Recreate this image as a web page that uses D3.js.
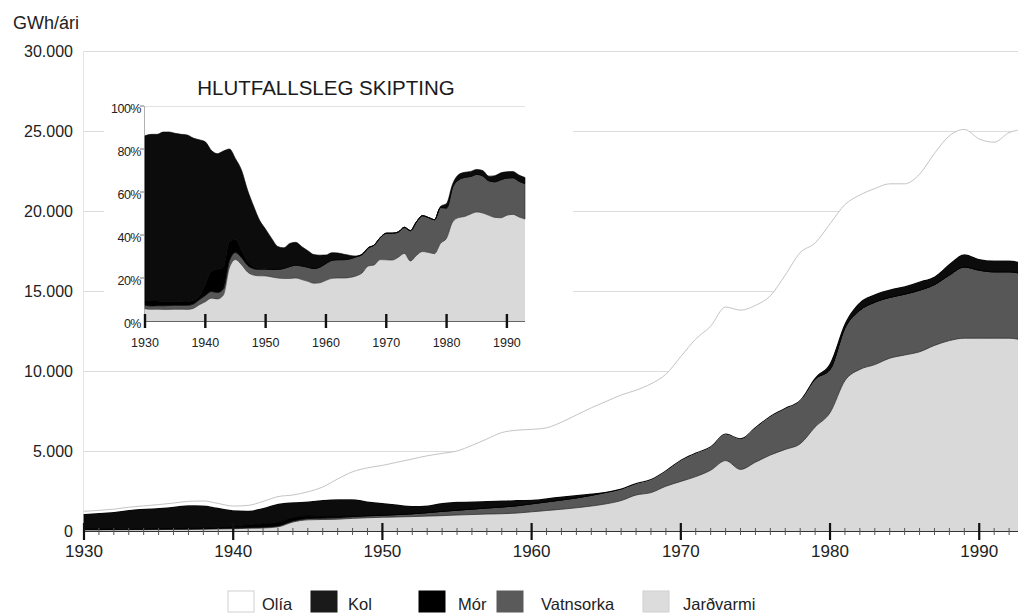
<!DOCTYPE html>
<html><head><meta charset="utf-8">
<script src="https://cdn.jsdelivr.net/npm/d3@7"></script>
<style>
body{margin:0;background:#fff}
svg{display:block;font-family:"Liberation Sans",Arial,Helvetica,sans-serif}
</style>
</head><body>
<svg id="chart" width="1018" height="614"></svg>
<script>
// ---------- DATA (GWh per year) ----------
const years = [1930,1931,1932,1933,1934,1935,1936,1937,1938,1939,
  1940,1941,1942,1943,1944,1945,1946,1947,1948,1949,
  1950,1951,1952,1953,1954,1955,1956,1957,1958,1959,
  1960,1961,1962,1963,1964,1965,1966,1967,1968,1969,
  1970,1971,1972,1973,1974,1975,1976,1977,1978,1979,
  1980,1981,1982,1983,1984,1985,1986,1987,1988,1989,
  1990,1991,1992,1993];
const olia = [170,170,180,180,190,210,230,250,280,270,
  260,330,410,450,450,600,820,1270,1720,2100,
  2350,2650,2940,3100,3100,3170,3500,3870,4250,4370,
  4400,4400,4650,5000,5350,5650,5850,5800,5950,6000,
  6450,7100,7500,7900,8000,7600,7500,8300,9200,8400,
  8700,7400,6700,6600,6600,6400,6700,7700,8000,7800,
  7500,7400,8000,8350];
const kol = [940,1000,1060,1170,1240,1290,1360,1440,1420,1250,
  1035,900,995,1160,970,920,1020,1080,1040,885,
  755,620,480,450,520,530,480,440,400,350,
  250,230,210,180,120,30,20,10,0,0,
  0,0,0,0,0,0,0,0,0,100,
  400,300,500,500,500,500,550,500,700,800,
  700,700,700,700];
const mor = [30,30,30,30,30,30,30,30,30,30,
  80,150,200,220,200,150,100,60,40,20,
  10,0,0,0,0,0,0,0,0,0,
  0,0,0,0,0,0,0,0,0,0,
  0,0,0,0,0,0,0,0,0,0,
  0,0,0,0,0,0,0,0,0,0,
  0,0,0,0];
const vatnsorka = [20,20,22,25,28,30,32,35,38,40,
  45,50,55,60,70,80,90,100,110,115,
  125,150,180,220,270,300,340,380,420,460,
  500,540,580,620,670,720,730,740,850,1000,
  1350,1500,1500,1700,1950,2200,2450,2600,2750,3000,
  2700,3300,3700,3900,3800,3800,3850,3800,4100,4450,
  4250,4150,4150,4150];
const jardvarmi = [70,70,75,80,85,90,95,100,110,130,
  140,170,190,260,560,700,720,740,790,830,
  860,880,900,930,960,1000,1030,1060,1080,1120,
  1200,1280,1360,1450,1560,1700,1900,2250,2400,2800,
  3100,3400,3800,4400,3850,4300,4750,5100,5450,6500,
  7400,9400,10100,10400,10800,11000,11200,11600,11900,12050,
  12050,12050,12050,11900];

const yTickValues = [0,5000,10000,15000,20000,25000,30000];
const yTickLabels = ["0","5.000","10.000","15.000","20.000","25.000","30.000"];
const xTickValues = [1930,1940,1950,1960,1970,1980,1990];
const insetYTicks = [0,0.2,0.4,0.6,0.8,1];
const insetYLabels = ["0%","20%","40%","60%","80%","100%"];
const stackOrder = ["Jarðvarmi","Vatnsorka","Mór","Kol","Olía"]; // bottom -> top
const legendOrder = ["Olía","Kol","Mór","Vatnsorka","Jarðvarmi"];
const colors = {"Olía":"#ffffff","Kol":"#0c0c0c","Mór":"#000000","Vatnsorka":"#575757","Jarðvarmi":"#d9d9d9"};
const legendColors = {"Olía":"#ffffff","Kol":"#1a1a1a","Mór":"#000000","Vatnsorka":"#5a5a5a","Jarðvarmi":"#dcdcdc"};
const strokes = {"Olía":"none","Kol":"#000","Mór":"#000","Vatnsorka":"#2e2e2e","Jarðvarmi":"none"};

// ---------- BUILD ----------
const rows = years.map((yr,i)=>({year:yr,"Olía":olia[i],"Kol":kol[i],"Mór":mor[i],"Vatnsorka":vatnsorka[i],"Jarðvarmi":jardvarmi[i]}));
const svg = d3.select("#chart");
const curve = d3.curveMonotoneX;

// main scales
const x = d3.scaleLinear().domain([1930,1993]).range([84,1024]);
const y = d3.scaleLinear().domain([0,30000]).range([531,51]);

// gridlines
svg.append("g").selectAll("line").data(yTickValues.slice(1)).join("line")
  .attr("x1",83).attr("x2",1018).attr("y1",d=>Math.round(y(d))+0.5).attr("y2",d=>Math.round(y(d))+0.5)
  .attr("stroke","#dcdcdc").attr("stroke-width",1);
svg.append("line").attr("x1",83.5).attr("x2",83.5).attr("y1",y(30000)).attr("y2",y(0))
  .attr("stroke","#e4e4e4");

const stackMain = d3.stack().keys(stackOrder)(rows);
const areaMain = d3.area().curve(curve).x(d=>x(d.data.year)).y0(d=>y(d[0])).y1(d=>y(d[1]));
svg.append("g").selectAll("path").data(stackMain).join("path")
  .attr("d",areaMain).attr("fill",d=>colors[d.key])
  .attr("stroke",d=>strokes[d.key]).attr("stroke-width",0.8);
const topLayer = stackMain[stackMain.length-1];
svg.append("path").datum(topLayer)
  .attr("d",d3.line().curve(curve).x(d=>x(d.data.year)).y(d=>y(d[1])))
  .attr("fill","none").attr("stroke","#c4c4c4").attr("stroke-width",1);

// main x axis
const ax = svg.append("g");
ax.append("line").attr("x1",84).attr("x2",1018).attr("y1",531.5).attr("y2",531.5).attr("stroke","#333");
ax.selectAll("line.minor").data(years).join("line").attr("class","minor")
  .attr("x1",d=>x(d)).attr("x2",d=>x(d)).attr("y1",528).attr("y2",535)
  .attr("stroke","#555").attr("stroke-width",1);
ax.selectAll("line.major").data(xTickValues).join("line").attr("class","major")
  .attr("x1",d=>x(d)).attr("x2",d=>x(d)).attr("y1",523).attr("y2",540)
  .attr("stroke","#111").attr("stroke-width",2.2);
ax.selectAll("text").data(xTickValues).join("text")
  .attr("x",d=>x(d)).attr("y",557).attr("text-anchor","middle")
  .attr("font-size",17).attr("fill","#222").text(d=>d);

// y labels
svg.append("g").selectAll("text").data(yTickValues).join("text")
  .attr("x",73).attr("y",d=>y(d)+6).attr("text-anchor","end")
  .attr("font-size",16).attr("fill","#222").text((d,i)=>yTickLabels[i]);
svg.append("text").attr("x",13).attr("y",29).attr("font-size",18).attr("fill","#222").text("GWh/ári");

// ---------- INSET ----------
const ins = svg.append("g");
ins.append("rect").attr("x",104).attr("y",62).attr("width",469).attr("height",294).attr("fill","#fff");
const xi = d3.scaleLinear().domain([1930,1993]).range([145,525]);
const yi = d3.scaleLinear().domain([0,1]).range([321,106]);
ins.append("line").attr("x1",145).attr("x2",525).attr("y1",106.5).attr("y2",106.5).attr("stroke","#e2e2e2");
ins.append("line").attr("x1",144.5).attr("x2",144.5).attr("y1",106).attr("y2",321).attr("stroke","#b0b0b0");
const stackIns = d3.stack().keys(stackOrder).offset(d3.stackOffsetExpand)(rows);
const areaIns = d3.area().curve(curve).x(d=>xi(d.data.year)).y0(d=>yi(d[0])).y1(d=>yi(d[1]));
ins.append("g").selectAll("path").data(stackIns.filter(s=>s.key!=="Olía")).join("path")
  .attr("d",areaIns).attr("fill",d=>colors[d.key])
  .attr("stroke",d=>strokes[d.key]).attr("stroke-width",0.6);
ins.append("line").attr("x1",145).attr("x2",525).attr("y1",321.5).attr("y2",321.5).attr("stroke","#666");
ins.selectAll("line.tk").data(xTickValues).join("line").attr("class","tk")
  .attr("x1",d=>xi(d)).attr("x2",d=>xi(d)).attr("y1",314).attr("y2",328)
  .attr("stroke","#111").attr("stroke-width",2.4);
ins.selectAll("text.xl").data(xTickValues).join("text").attr("class","xl")
  .attr("x",d=>xi(d)).attr("y",347).attr("text-anchor","middle")
  .attr("font-size",12.5).attr("fill","#222").text(d=>d);
ins.selectAll("line.yt").data(insetYTicks.slice(1)).join("line").attr("class","yt")
  .attr("x1",140).attr("x2",144).attr("y1",d=>yi(d)).attr("y2",d=>yi(d)).attr("stroke","#777");
ins.selectAll("text.yl").data(insetYTicks).join("text").attr("class","yl")
  .attr("x",141).attr("y",d=>yi(d)+7).attr("text-anchor","end")
  .attr("font-size",12.5).attr("letter-spacing",-0.5).attr("fill","#222").text((d,i)=>insetYLabels[i]);
ins.append("text").attr("x",326).attr("y",95).attr("text-anchor","middle")
  .attr("font-size",20.5).attr("fill","#1a1a1a").text("HLUTFALLSLEG SKIPTING");

// ---------- LEGEND ----------
const legX = {"Olía":[228,262],"Kol":[311,348],"Mór":[419,458],"Vatnsorka":[497,541],"Jarðvarmi":[643,683]};
const lg = svg.append("g").selectAll("g").data(legendOrder).join("g");
lg.append("rect").attr("x",d=>legX[d][0]).attr("y",591).attr("width",26).attr("height",21)
  .attr("fill",d=>legendColors[d]).attr("stroke",d=>d==="Olía"||d==="Jarðvarmi"?"#d0d0d0":legendColors[d]);
lg.append("text").attr("x",d=>legX[d][1]).attr("y",610).attr("font-size",16.5).attr("fill","#222").text(d=>d);
</script>
</body></html>
